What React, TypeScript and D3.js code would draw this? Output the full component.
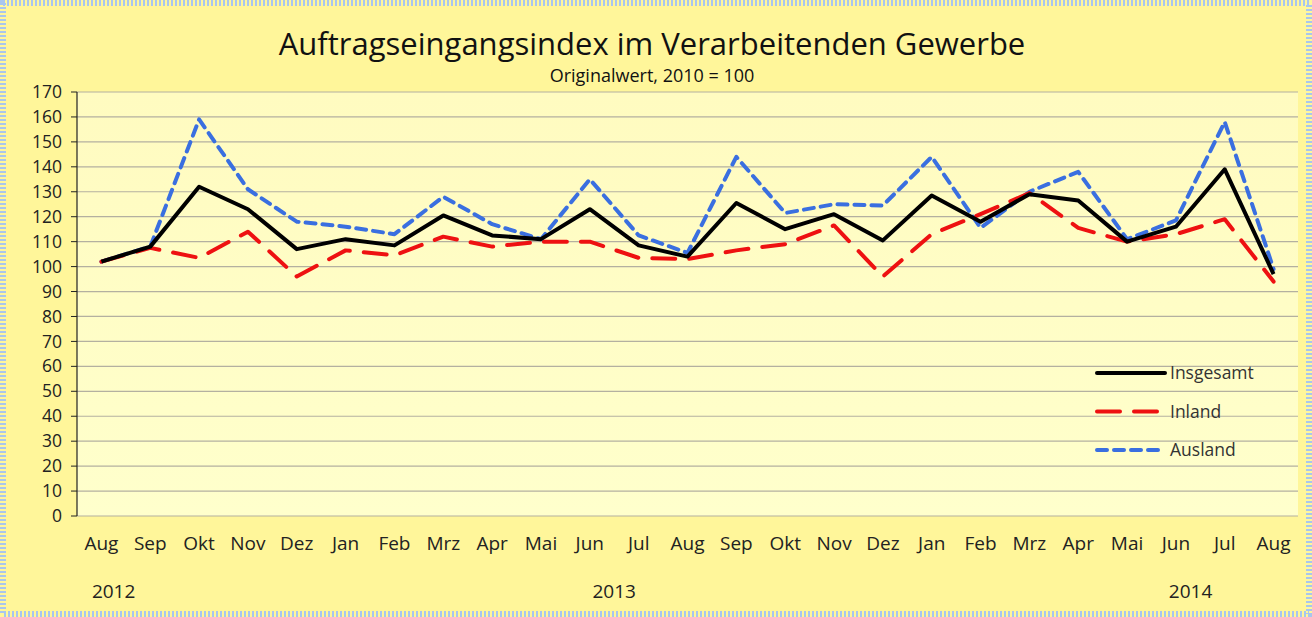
import * as d3 from "d3";

const months = ["Aug", "Sep", "Okt", "Nov", "Dez", "Jan", "Feb", "Mrz", "Apr", "Mai", "Jun", "Jul", "Aug",
  "Sep", "Okt", "Nov", "Dez", "Jan", "Feb", "Mrz", "Apr", "Mai", "Jun", "Jul", "Aug"];

const insgesamt = [102, 108, 132, 123, 107, 111, 108.5, 120.5, 112.5, 111, 123, 108.5, 104,
  125.5, 115, 121, 110.5, 128.5, 118, 129, 126.5, 110, 116, 139, 97];
const inland = [102, 107.5, 103.5, 114, 96, 106.5, 104.5, 112, 108, 110, 110, 103.5, 103,
  106.5, 109, 116.5, 96, 113, 121, 129.5, 115.5, 110, 113, 119, 94];
const ausland = [102, 108, 159, 131, 118, 116, 113, 128, 117, 111, 135, 112.5, 105.5,
  144, 121.5, 125, 124.5, 144, 115.5, 130, 138, 111, 118.5, 158, 99];

const years = [
  { label: "2012", at: 0.25 },
  { label: "2013", at: 10.5 },
  { label: "2014", at: 22.3 },
];

const series = [
  { name: "Insgesamt", values: insgesamt, color: "#000000", dash: "none" },
  { name: "Inland", values: inland, color: "#ee1111", dash: "23 14" },
  { name: "Ausland", values: ausland, color: "#3a6fe0", dash: "10 7" },
];

const W = 1312;
const H = 617;
const left = 77, right = 1298, top = 92, bottom = 516;
const font = "'Open Sans', sans-serif";

export default function App() {
  const x = d3.scaleBand<number>().domain(d3.range(months.length)).range([left, right]);
  const y = d3.scaleLinear([0, 170], [bottom, top]);
  const ticks = d3.range(0, 171, 10);
  const line = d3.line<number>((d, i) => x(i)! + x.bandwidth() / 2, (d) => y(d));

  return (
    <svg width={W} height={H} style={{ position: "fixed", left: 0, top: 0 }} fontFamily={font}>
      <defs>
        <linearGradient id="plotbg" x1="0" y1="0" x2="0" y2="1">
          <stop offset="0" stopColor="#fffbc0" />
          <stop offset="1" stopColor="#ffffcc" />
        </linearGradient>
      </defs>
      <rect x={0} y={0} width={W} height={H} fill="#fff69a" />
      <rect x={3} y={3} width={W - 6} height={H - 6} fill="none" stroke="#a8c6ee" strokeWidth={6} strokeDasharray="2 2" />
      <rect x={left} y={top} width={right - left} height={bottom - top} fill="url(#plotbg)" />

      <text x={652} y={55} textAnchor="middle" fontSize={31} fill="#111">
        Auftragseingangsindex im Verarbeitenden Gewerbe
      </text>
      <text x={652} y={82} textAnchor="middle" fontSize={18} fill="#111">
        Originalwert, 2010 = 100
      </text>

      {ticks.map((t) => (
        <g key={t}>
          {t > 0 && <line x1={left} x2={right} y1={y(t)} y2={y(t)} stroke="#b4b0a0" strokeWidth={1.2} />}
          <line x1={left - 6} x2={left} y1={y(t)} y2={y(t)} stroke="#222" strokeWidth={1} />
          <text x={left - 15} y={y(t)} dy="0.35em" textAnchor="end" fontSize={17.5} fill="#222">{t}</text>
        </g>
      ))}
      <line x1={left} x2={right} y1={bottom} y2={bottom} stroke="#b4b0a0" strokeWidth={1.2} />
      <line x1={left} x2={left} y1={top} y2={bottom} stroke="#222" strokeWidth={1.2} />

      {months.map((m, i) => (
        <text key={i} x={x(i)! + x.bandwidth() / 2} y={550} textAnchor="middle" fontSize={19} fill="#222">{m}</text>
      ))}
      {years.map((yr) => (
        <text key={yr.label} x={x(0)! + x.bandwidth() / 2 + yr.at * x.step()} y={598} textAnchor="middle" fontSize={19} fill="#222">
          {yr.label}
        </text>
      ))}

      {series.slice().reverse().map((s) => (
        <path key={s.name} d={line(s.values)!} fill="none" stroke={s.color} strokeWidth={4}
          strokeDasharray={s.dash} strokeLinejoin="round" strokeLinecap={s.dash === "none" ? "butt" : "round"} />
      ))}

      {series.map((s, i) => (
        <g key={s.name} transform={`translate(1097,${373 + i * 38.5})`}>
          <line x1={0} x2={68} y1={0} y2={0} stroke={s.color} strokeWidth={4}
            strokeDasharray={s.dash} strokeLinecap="round" />
          <text x={73} y={0} dy="0.35em" fontSize={17.5} fill="#333">{s.name}</text>
        </g>
      ))}
    </svg>
  );
}
